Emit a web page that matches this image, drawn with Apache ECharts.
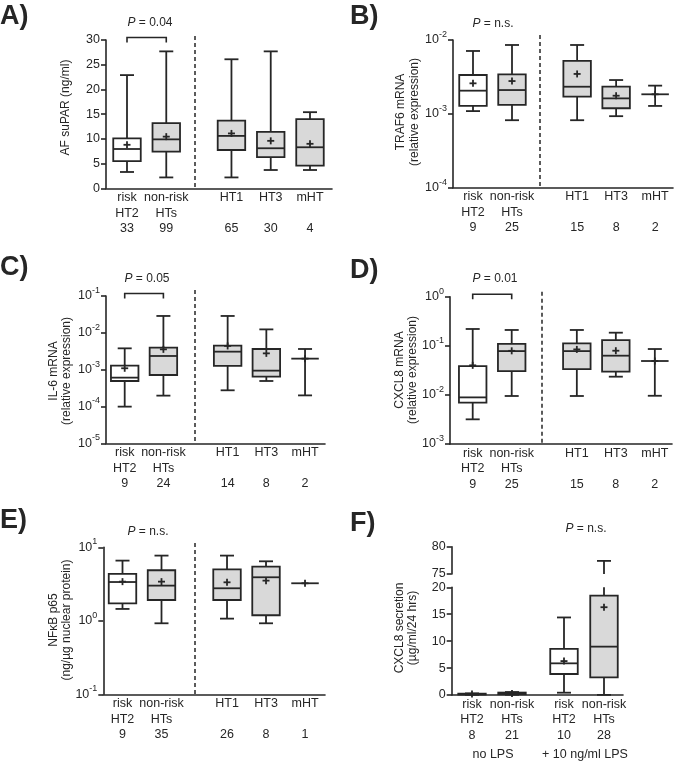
<!DOCTYPE html>
<html><head><meta charset="utf-8">
<script src="https://cdn.jsdelivr.net/npm/echarts@6/dist/echarts.min.js"></script>
<style>html,body{margin:0;padding:0;background:#fff}#c{width:675px;height:761px}</style>
</head><body><div id="c"></div>
<script>
// ---------------- DATA ----------------
const groups  = ['risk HT2', 'non-risk HTs', 'HT1', 'HT3', 'mHT'];
const groupsF = ['risk HT2', 'non-risk HTs', 'risk HT2', 'non-risk HTs'];

const nA = [33, 99, 65, 30, 4];
const nB = [9, 25, 15, 8, 2];
const nC = [9, 24, 14, 8, 2];
const nD = [9, 25, 15, 8, 2];
const nE = [9, 35, 26, 8, 1];
const nF = [8, 21, 10, 28];

// [min, Q1, median, Q3, max]
const statsA = [[3.3, 5.5, 7.95, 10.1, 22.9], [2.2, 7.4, 9.9, 13.2, 27.7], [2.2, 7.75, 10.6, 13.7, 26.1], [3.7, 6.3, 8.1, 11.4, 27.7], [3.7, 4.6, 8.3, 14.0, 15.4]];
const meanA  = [8.8, 10.45, 11.1, 9.6, 9.0];

const statsB = [[1.09e-3, 1.28e-3, 2.06e-3, 3.36e-3, 7.1e-3], [8.2e-4, 1.32e-3, 2.1e-3, 3.43e-3, 8.56e-3], [8.2e-4, 1.71e-3, 2.33e-3, 5.2e-3, 8.56e-3], [9.3e-4, 1.19e-3, 1.62e-3, 2.33e-3, 2.87e-3], [1.28e-3, null, 1.84e-3, null, 2.41e-3]];
const meanB  = [2.59e-3, 2.78e-3, 3.47e-3, 1.76e-3, 1.84e-3];

const statsC = [[9.9e-5, 4.92e-4, 6.07e-4, 1.28e-3, 3.79e-3], [1.97e-4, 7.16e-4, 2.35e-3, 3.95e-3, 2.87e-2], [2.75e-4, 1.26e-3, 3.08e-3, 4.49e-3, 2.87e-2], [4.92e-4, 6.46e-4, 9.4e-4, 3.64e-3, 1.24e-2], [2.0e-4, null, 1.99e-3, null, 3.64e-3]];
const meanC  = [1.09e-3, 3.56e-3, 4.4e-3, 2.77e-3, 1.99e-3];

const statsD = [[3.18e-3, 6.94e-3, 8.9e-3, 3.87e-2, 0.22], [9.5e-3, 3.06e-2, 7.8e-2, 0.109, 0.21], [9.5e-3, 3.36e-2, 7.8e-2, 0.112, 0.21], [2.35e-2, 2.97e-2, 6.29e-2, 0.131, 0.185], [9.6e-3, null, 4.9e-2, null, 8.6e-2]];
const meanD  = [0.04, 0.079, 0.0845, 0.0794, 0.049];

const statsE = [[1.45, 1.73, 3.37, 4.34, 6.59], [0.925, 1.92, 3.01, 4.87, 7.71], [1.07, 1.92, 2.77, 5.02, 7.71], [0.925, 1.19, 3.91, 5.46, 6.45], [null, null, 3.24, null, null]];
const meanE  = [3.41, 3.41, 3.34, 3.52, 3.24];

const statsF = [[0.05, 0.1, 0.15, 0.25, 0.3], [0.05, 0.15, 0.25, 0.45, 0.55], [0.43, 3.9, 5.88, 8.55, 14.4], [0.02, 3.28, 8.98, 18.45, 77.4]];
const meanF  = [0.17, 0.3, 6.3, 16.3];

const pA = '0.04', pB = 'n.s.', pC = '0.05', pD = '0.01', pE = 'n.s.', pF = 'n.s.';

// ---------------- STYLE / LAYOUT ----------------
const INK = '#262626', GRAY = '#d9d9d9', FONT = "'Liberation Sans', Arial, sans-serif";
const BOX_W = 27.5, CAP_W = 14, LW = 1.8, PLUS = 7;
const TICK_FS = 12.5, CAT_FS = 12.5, TITLE_FS = 12;

function xPositions(k, gap) { return Array.from({length: k}, (_, i) => i < 2 ? i : i - 1 + gap); }

function line(x1, y1, x2, y2, w) {
  return {type: 'line', shape: {x1, y1, x2, y2}, style: {stroke: INK, lineWidth: w || LW}};
}

function makeBoxRender(cats) {
  return function (params, api) {
    const cs = params.coordSys;
    const top = cs.y, bot = cs.y + cs.height;
    const xv = api.value(0);
    const mn = api.value(1), q1 = api.value(2), md = api.value(3), q3 = api.value(4), mx = api.value(5), mean = api.value(6);
    const ref = [md, mean, q1, mn].find(v => isFinite(v) && v > 0);
    const Y = v => api.coord([xv, v])[1];
    const cx = api.coord([xv, ref])[0];
    const hw = BOX_W / 2, cw = CAP_W / 2;
    const inR = y => y >= top - 0.6 && y <= bot + 0.6;
    const fill = cats[params.dataIndex].indexOf('risk') === 0 ? '#ffffff' : GRAY;
    const ch = [];
    if (isFinite(mn) && isFinite(mx)) {
      const y1 = Y(mx), y2 = Y(mn);
      const a = Math.max(y1, top), b = Math.min(y2, bot);
      if (a < b) ch.push(line(cx, a, cx, b));
      if (inR(y1)) ch.push(line(cx - cw, y1, cx + cw, y1));
      if (inR(y2)) ch.push(line(cx - cw, y2, cx + cw, y2));
    }
    if (isFinite(q1) && isFinite(q3)) {
      const a = Math.max(Y(q3), top), b = Math.min(Y(q1), bot);
      if (a < b) ch.push({type: 'rect', shape: {x: cx - hw, y: a, width: BOX_W, height: b - a}, style: {fill, stroke: INK, lineWidth: LW}});
    }
    if (isFinite(md)) { const y = Y(md); if (inR(y)) ch.push(line(cx - hw, y, cx + hw, y)); }
    if (isFinite(mean)) {
      const y = Y(mean);
      if (inR(y)) { ch.push(line(cx - PLUS / 2, y, cx + PLUS / 2, y)); ch.push(line(cx, y - PLUS / 2, cx, y + PLUS / 2)); }
    }
    return {type: 'group', children: ch};
  };
}

function bracketRender(params, api) {
  const cs = params.coordSys;
  const x1 = api.coord([api.value(0), 1])[0], x2 = api.coord([api.value(1), 1])[0];
  const y = cs.y - 2.5;
  return {type: 'polyline', shape: {points: [[x1, y + 5], [x1, y], [x2, y], [x2, y + 5]]}, style: {stroke: INK, lineWidth: 1.6, fill: null}};
}

const logLabel = v => '{b|10}{s|' + Math.round(Math.log10(v)) + '}';
const logRich = {b: {fontSize: TICK_FS, fontFamily: FONT, color: INK, lineHeight: 20}, s: {fontSize: 9, fontFamily: FONT, color: INK, lineHeight: 10, verticalAlign: 'top'}};

const option = {animation: false, backgroundColor: '#fff', grid: [], xAxis: [], yAxis: [], series: [], graphic: []};

function yAxisCfg(type, min, max, interval) {
  const c = {
    type, min, max,
    axisLine: {show: true, onZero: false, lineStyle: {color: INK, width: 1.6}},
    axisTick: {show: true, inside: false, length: 5, lineStyle: {color: INK, width: 1.6}},
    minorTick: {show: false},
    splitLine: {show: false},
    axisLabel: {margin: 6, fontSize: TICK_FS, fontFamily: FONT, color: INK}
  };
  if (type === 'log') { c.logBase = 10; c.axisLabel.formatter = logLabel; c.axisLabel.rich = logRich; }
  else { c.interval = interval; }
  return c;
}

function addGrid(lay, top, bottom, cats, counts, showX, yCfg) {
  const gi = option.grid.length;
  const pos = xPositions(cats.length, lay.gap);
  option.grid.push({left: lay.left, top, width: lay.right - lay.left, height: bottom - top, containLabel: false, outerBoundsMode: 'none'});
  option.xAxis.push({
    gridIndex: gi, type: 'value', show: showX,
    min: (lay.left - lay.c0) / lay.u, max: (lay.right - lay.c0) / lay.u,
    axisLine: {show: true, onZero: false, lineStyle: {color: INK, width: 1.6}},
    axisTick: {show: false}, splitLine: {show: false},
    axisLabel: {
      customValues: pos, margin: 1.5, lineHeight: 15.5, fontSize: CAT_FS, fontFamily: FONT, color: INK,
      formatter: v => {
        const i = pos.findIndex(p => Math.abs(p - v) < 1e-6);
        if (i < 0) return '';
        const parts = cats[i].split(' ');
        return parts[0] + '\n' + (parts[1] || '') + '\n' + counts[i];
      }
    }
  });
  option.yAxis.push(Object.assign({gridIndex: gi}, yCfg));
  return {gi, pos};
}

function addBoxes(g, cats, stats, means) {
  option.series.push({
    type: 'custom', xAxisIndex: g.gi, yAxisIndex: g.gi, silent: true, z: 3,
    renderItem: makeBoxRender(cats),
    encode: {x: 0, y: [1, 2, 3, 4, 5, 6]},
    data: cats.map((c, i) => [g.pos[i]].concat(stats[i].map(v => v == null ? '-' : v), [means[i]]))
  });
}
function addBracket(g) {
  option.series.push({
    type: 'custom', xAxisIndex: g.gi, yAxisIndex: g.gi, silent: true, z: 3,
    renderItem: bracketRender, encode: {x: [0, 1], y: 2},
    data: [[g.pos[0], g.pos[1], 1]]
  });
}

const LAY = {
  A: {left: 106, right: 332, top: 40, bottom: 188.3, c0: 127, u: 39.27, gap: 1.66},
  B: {left: 453, right: 673, top: 40, bottom: 187.7, c0: 473, u: 39, gap: 1.67},
  C: {left: 106, right: 325, top: 296, bottom: 443.3, c0: 124.7, u: 38.7, gap: 1.66},
  D: {left: 450, right: 672, top: 296.7, bottom: 444, c0: 472.7, u: 39, gap: 1.67},
  E: {left: 103.3, right: 325, top: 547.3, bottom: 694.3, c0: 122.5, u: 39, gap: 1.68},
  F: {left: 451.7, right: 623, upTop: 546.7, upBottom: 574, top: 587.3, bottom: 695, c0: 472, u: 40, gap: 1.3}
};

// A
let g = addGrid(LAY.A, LAY.A.top, LAY.A.bottom, groups, nA, true, yAxisCfg('value', 0, 30, 5));
addBoxes(g, groups, statsA, meanA); addBracket(g);
// B
g = addGrid(LAY.B, LAY.B.top, LAY.B.bottom, groups, nB, true, yAxisCfg('log', 1e-4, 1e-2));
addBoxes(g, groups, statsB, meanB);
// C
g = addGrid(LAY.C, LAY.C.top, LAY.C.bottom, groups, nC, true, yAxisCfg('log', 1e-5, 1e-1));
addBoxes(g, groups, statsC, meanC); addBracket(g);
// D
g = addGrid(LAY.D, LAY.D.top, LAY.D.bottom, groups, nD, true, yAxisCfg('log', 1e-3, 1));
addBoxes(g, groups, statsD, meanD); addBracket(g);
// E
g = addGrid(LAY.E, LAY.E.top, LAY.E.bottom, groups, nE, true, yAxisCfg('log', 0.1, 10));
addBoxes(g, groups, statsE, meanE);
// F (broken axis)
g = addGrid(LAY.F, LAY.F.upTop, LAY.F.upBottom, groupsF, nF, false, yAxisCfg('value', 75, 80, 5));
addBoxes(g, groupsF, statsF, meanF);
g = addGrid(LAY.F, LAY.F.top, LAY.F.bottom, groupsF, nF, true, yAxisCfg('value', 0, 20, 5));
addBoxes(g, groupsF, statsF, meanF);

// ---------------- TEXT / DECORATION ----------------
const GR = option.graphic;
const letter = (t, x, y) => GR.push({type: 'text', x, y, silent: true, style: {text: t, font: `bold 27px ${FONT}`, fill: INK, align: 'left', verticalAlign: 'middle'}});
letter('A)', 0, 17); letter('B)', 350, 17); letter('C)', 0, 268); letter('D)', 350, 271); letter('E)', 0, 521); letter('F)', 350, 524);

const pText = (p, x, y) => GR.push({type: 'text', x, y, silent: true, style: {
  text: '{i|P} = ' + p, align: 'center', verticalAlign: 'middle', fontSize: 12, fontFamily: FONT, fill: INK,
  rich: {i: {fontStyle: 'italic', fontSize: 12, fontFamily: FONT, fill: INK}}}});
pText(pA, 150, 23); pText(pB, 493, 24); pText(pC, 147, 279); pText(pD, 495, 279); pText(pE, 148, 532); pText(pF, 586, 529);

const yTitle = (t, x, y) => GR.push({type: 'text', x, y, rotation: Math.PI / 2, silent: true, style: {
  text: t, align: 'center', verticalAlign: 'middle', fontSize: TITLE_FS, fontFamily: FONT, fill: INK, lineHeight: 13.5}});
yTitle('AF suPAR (ng/ml)', 66, 107.5);
yTitle('TRAF6 mRNA\n(relative expression)', 407.5, 112);
yTitle('IL-6 mRNA\n(relative expression)', 60, 371);
yTitle('CXCL8 mRNA\n(relative expression)', 406, 370);
yTitle('NFκB p65\n(ng/µg nuclear protein)', 60, 620);
yTitle('CXCL8 secretion\n(µg/ml/24 hrs)', 406, 628);

const divider = (x, y1, y2) => GR.push({type: 'line', silent: true, shape: {x1: x, y1, x2: x, y2}, style: {stroke: INK, lineWidth: 1.5, lineDash: [4, 3]}});
divider(195, 36, LAY.A.bottom); divider(540, 35, LAY.B.bottom); divider(195, 290, LAY.C.bottom); divider(542, 291.7, LAY.D.bottom); divider(195, 543, LAY.E.bottom);

const small = (t, x, y) => GR.push({type: 'text', x, y, silent: true, style: {text: t, align: 'center', verticalAlign: 'middle', fontSize: CAT_FS, fontFamily: FONT, fill: INK}});
small('no LPS', 493, 755); small('+ 10 ng/ml LPS', 585, 755);

const chart = echarts.init(document.getElementById('c'), null, {renderer: 'canvas'});
chart.setOption(option);
</script></body></html>
